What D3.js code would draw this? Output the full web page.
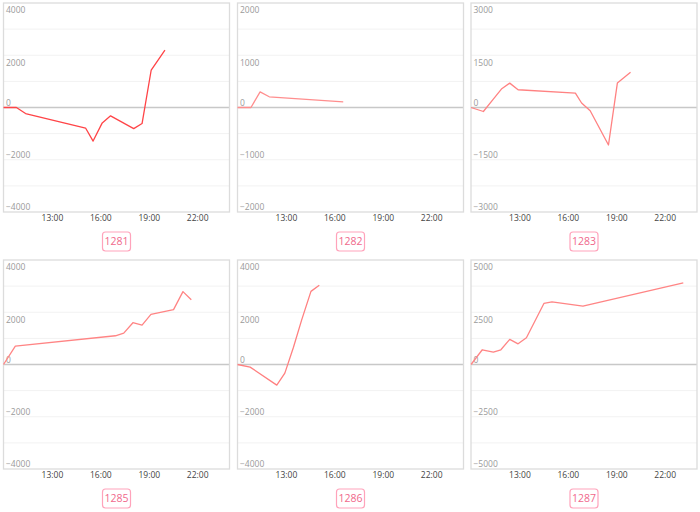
<!DOCTYPE html>
<html>
<head>
<meta charset="utf-8">
<script src="https://cdn.jsdelivr.net/npm/d3@7"></script>
<style>
  html, body { margin: 0; padding: 0; background: #fff; }
  svg { display: block; font-family: "Open Sans", "Noto Sans", sans-serif; }
</style>
</head>
<body>
<svg id="chart" width="700" height="512"></svg>
<script>
// ---- data ----
const panelLabels = ["1281", "1282", "1283", "1285", "1286", "1287"];
const yMaxes = [4000, 2000, 3000, 4000, 4000, 5000];
const xTickLabels = ["13:00", "16:00", "19:00", "22:00"];
const xDomain = ["10:00", "24:00"];

const times1281 = ["10:00", "10:48", "11:22", "15:05", "15:33", "16:07", "16:38", "18:04", "18:35", "19:09", "20:00"];
const values1281 = [0, 0, -230, -785, -1285, -590, -320, -810, -615, 1435, 2200];

const times1282 = ["10:00", "10:50", "11:24", "11:58", "16:33"];
const values1282 = [0, 0, 300, 205, 107];

const times1283 = ["10:00", "10:46", "11:23", "11:53", "12:24", "12:55", "16:28", "16:51", "17:23", "18:31", "19:04", "19:53"];
const values1283 = [0, -115, 240, 530, 700, 510, 415, 130, -95, -1076, 700, 1010];

const times1285 = ["10:00", "10:44", "16:56", "17:27", "18:01", "18:35", "19:08", "20:32", "21:07", "21:38"];
const values1285 = [0, 700, 1100, 1200, 1600, 1510, 1920, 2100, 2790, 2480];

const times1286 = ["10:00", "10:47", "12:26", "12:56", "13:28", "13:58", "14:33", "15:04"];
const values1286 = [0, -100, -790, -330, 660, 1690, 2800, 3030];

const times1287 = ["10:00", "10:42", "11:23", "11:51", "12:24", "12:55", "13:26", "14:31", "15:01", "16:56", "23:09"];
const values1287 = [0, 705, 590, 705, 1200, 990, 1280, 2920, 3000, 2790, 3910];

const seriesTimes = [times1281, times1282, times1283, times1285, times1286, times1287];
const seriesValues = [values1281, values1282, values1283, values1285, values1286, values1287];
const lineColors = ["#ff4447", "#ff8e8e", "#ff8282", "#ff8484", "#ff8080", "#ff8585"];

// ---- layout ----
const colX = [3.5, 237.5, 471];
const rowY = [3, 260];
const plotW = 226;
const plotH = 209;

const toHours = s => { const [h, m] = s.split(":").map(Number); return h + m / 60; };

const svg = d3.select("#chart");

panelLabels.forEach((label, i) => {
  const col = i % 3, row = Math.floor(i / 3);
  const left = colX[col], top = rowY[row];
  const yMax = yMaxes[i];

  const x = d3.scaleLinear().domain(xDomain.map(toHours)).range([left, left + plotW]);
  const y = d3.scaleLinear().domain([-yMax, yMax]).range([top + plotH, top]);

  const g = svg.append("g");

  // horizontal grid lines (every half tick step)
  const gridVals = d3.range(-4, 5).map(k => k * yMax / 4);
  g.append("g").selectAll("line").data(gridVals.filter(v => v !== 0 && Math.abs(v) !== yMax))
    .join("line")
    .attr("x1", left).attr("x2", left + plotW)
    .attr("y1", d => y(d)).attr("y2", d => y(d))
    .attr("stroke", "#f2f2f2").attr("stroke-width", 1);

  // zero line
  g.append("line")
    .attr("x1", left).attr("x2", left + plotW)
    .attr("y1", y(0)).attr("y2", y(0))
    .attr("stroke", "#c8c8c8").attr("stroke-width", 1.3);

  // panel border
  g.append("rect")
    .attr("x", left).attr("y", top).attr("width", plotW).attr("height", plotH)
    .attr("fill", "none").attr("stroke", "#dcdcdc").attr("stroke-width", 1.3);

  // y axis labels (inside the plot)
  const yTicks = [yMax, yMax / 2, 0, -yMax / 2, -yMax];
  const yAxis = d3.axisRight(y).tickValues(yTicks).tickSize(0).tickFormat(d3.format("d"));
  const ya = g.append("g").attr("transform", `translate(${left + 2.5},0)`).call(yAxis);
  ya.select(".domain").remove();
  ya.selectAll("text")
    .attr("x", 0)
    .attr("dy", null)
    .attr("y", d => d > 0 ? 9.8 : -2.3)
    .attr("text-anchor", "start")
    .attr("font-size", 8.5)
    .attr("font-family", "\"Open Sans\", sans-serif")
    .attr("fill", "#9a9a9a");

  // x axis labels
  const xAxis = d3.axisBottom(x).tickValues(xTickLabels.map(toHours)).tickSize(0)
    .tickFormat((d, k) => xTickLabels[k]);
  const xa = g.append("g").attr("transform", `translate(0,${top + plotH})`).call(xAxis);
  xa.select(".domain").remove();
  xa.selectAll("text")
    .attr("y", 3)
    .attr("font-size", 8.5)
    .attr("font-family", "\"Open Sans\", sans-serif")
    .attr("fill", "#444");

  // series line
  const pts = seriesTimes[i].map((t, k) => [toHours(t), seriesValues[i][k]]);
  const line = d3.line().x(d => x(d[0])).y(d => y(d[1]));
  g.append("path")
    .datum(pts)
    .attr("d", line)
    .attr("fill", "none")
    .attr("stroke", lineColors[i])
    .attr("stroke-width", 1.3)
    .attr("stroke-linejoin", "round");

  // label box under panel
  const cx = left + plotW / 2;
  const by = top + plotH + 20;
  g.append("rect")
    .attr("x", cx - 14).attr("y", by).attr("width", 28).attr("height", 19)
    .attr("rx", 3).attr("ry", 3)
    .attr("fill", "#fff").attr("stroke", "#ffa3bb").attr("stroke-width", 1.2);
  g.append("text")
    .attr("x", cx).attr("y", by + 13.3)
    .attr("text-anchor", "middle")
    .attr("font-size", 10.5)
    .attr("fill", "#f0688c")
    .text(label);
});
</script>
</body>
</html>
